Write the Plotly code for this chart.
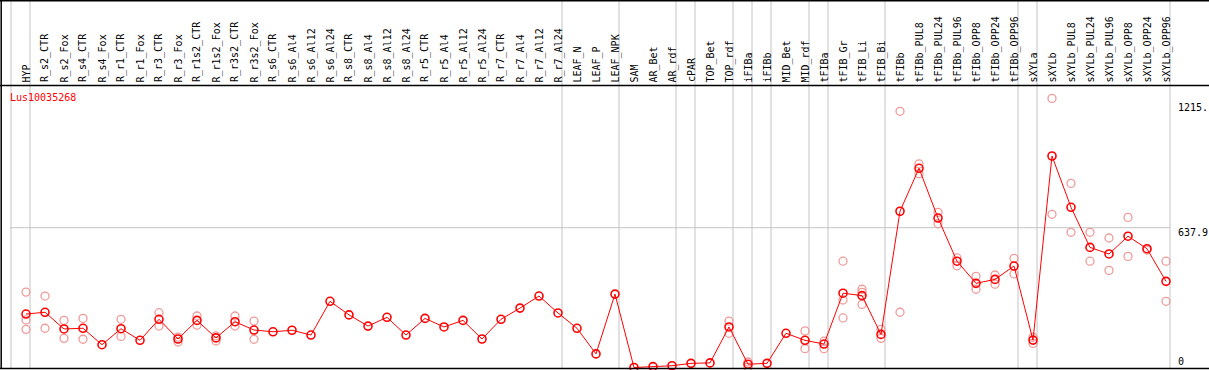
import plotly.graph_objects as go

# ---------------- data ----------------
categories = [
    "HYP", "R_s2_CTR", "R_s2_Fox", "R_s4_CTR", "R_s4_Fox", "R_r1_CTR", "R_r1_Fox",
    "R_r3_CTR", "R_r3_Fox", "R_r1s2_CTR", "R_r1s2_Fox", "R_r3s2_CTR", "R_r3s2_Fox",
    "R_s6_CTR", "R_s6_Al4", "R_s6_Al12", "R_s6_Al24", "R_s8_CTR", "R_s8_Al4",
    "R_s8_Al12", "R_s8_Al24", "R_r5_CTR", "R_r5_Al4", "R_r5_Al12", "R_r5_Al24",
    "R_r7_CTR", "R_r7_Al4", "R_r7_Al12", "R_r7_Al24", "LEAF_N", "LEAF_P", "LEAF_NPK",
    "SAM", "AR_Bet", "AR_rdf", "cPAR", "TOP_Bet", "TOP_rdf", "iFIBa", "iFIBb",
    "MID_Bet", "MID_rdf", "tFIBa", "tFIB_Gr", "tFIB_Li", "tFIB_Bi", "tFIBb",
    "tFIBb_PUL8", "tFIBb_PUL24", "tFIBb_PUL96", "tFIBb_OPP8", "tFIBb_OPP24",
    "tFIBb_OPP96", "sXYLa", "sXYLb", "sXYLb_PUL8", "sXYLb_PUL24", "sXYLb_PUL96",
    "sXYLb_OPP8", "sXYLb_OPP24", "sXYLb_OPP96",
]

mean_values = [
    244, 252, 176, 179, 104, 177, 124, 220, 130, 215, 135, 209, 171,
    163, 170, 148, 302, 240, 189, 229, 148, 224, 185, 215, 130,
    220, 271, 326, 249, 179, 62, 335,
    0, 4, 8, 19, 21, 185, 15, 19, 156, 124, 107, 339, 328, 151, 713,
    909, 682, 485, 384, 402, 463, 125, 965, 731, 548, 518, 599, 542, 393,
]

replicate_values = [
    [344, 217, 174], [326, 179], [215, 133], [224, 129], [], [220, 142], [],
    [250, 189], [139, 116], [235, 193], [144, 121], [235, 189], [212, 129],
    [], [], [], [], [], [], [], [], [], [], [], [],
    [], [], [], [], [], [], [],
    [], [], [], [], [], [212, 156], [25, 2], [],
    [], [167, 86], [120, 86], [485, 308, 226], [357, 343, 288], [174, 133], [1169, 252],
    [929, 884], [708, 656], [500, 464], [416, 357], [422, 380],
    [498, 427], [138, 110], [1228, 699], [840, 617], [617, 485], [591, 443],
    [685, 507], [536], [485, 302],
]

# indices after which a grey group separator is drawn (-1 = before first)
group_breaks = [-1, 0, 28, 31, 34, 35, 37, 38, 39, 41, 42, 45, 52, 53, 60]

gene_name = "Lus10035268"
axis_labels = ["1215.", "637.9", "0"]
grid_value = 637.9

# ---------------- geometry ----------------
W, H = 1209, 370
COL_W = 19.0
FIRST_COL_PX = 26.0
ZERO_PX = 367.5
GRID_PX = 227.7
HEADER_PX = 85.5
PLOT_BOTTOM_PX = 368.5
RIGHT_EDGE_PX = 1170

k = (ZERO_PX - GRID_PX) / grid_value  # px per unit
y_bottom = -(H - ZERO_PX) / k
y_top = ZERO_PX / k
x_left = -FIRST_COL_PX / COL_W
x_right = x_left + W / COL_W


def py(px):  # pixel y -> paper y
    return (H - px) / H


def pxx(px):  # pixel x -> paper x
    return px / W


xs = list(range(len(categories)))
rep_x, rep_y = [], []
for i, reps in enumerate(replicate_values):
    for v in reps:
        rep_x.append(i)
        rep_y.append(v)

fig = go.Figure()
fig.add_trace(go.Scatter(
    x=rep_x, y=rep_y, mode="markers",
    marker=dict(symbol="circle-open", size=8, color="#f09a9a",
                line=dict(width=1.3, color="#f09a9a")),
    hoverinfo="skip", showlegend=False, cliponaxis=False,
))
fig.add_trace(go.Scatter(
    x=xs, y=mean_values, mode="lines+markers",
    line=dict(color="#ff0000", width=1),
    marker=dict(symbol="circle-open", size=8, color="#ff0000",
                line=dict(width=1.6, color="#ff0000")),
    showlegend=False, cliponaxis=False,
))

shapes = []
for b in group_breaks:
    xb = b + 4.0 / COL_W
    shapes.append(dict(type="line", xref="x", yref="paper", x0=xb, x1=xb,
                       y0=py(PLOT_BOTTOM_PX), y1=1, line=dict(color="#c4c4c4", width=1),
                       layer="below"))
# horizontal grid line
shapes.append(dict(type="line", xref="paper", yref="y", x0=pxx(10), x1=pxx(RIGHT_EDGE_PX),
                   y0=grid_value, y1=grid_value, line=dict(color="#c4c4c4", width=1),
                   layer="below"))
# header separator and frame
shapes.append(dict(type="line", xref="paper", yref="paper", x0=0, x1=1,
                   y0=py(HEADER_PX), y1=py(HEADER_PX), line=dict(color="black", width=1.5)))
shapes.append(dict(type="line", xref="paper", yref="paper", x0=0, x1=1,
                   y0=py(0.7), y1=py(0.7), line=dict(color="black", width=1.5)))
shapes.append(dict(type="line", xref="paper", yref="paper", x0=pxx(1.2), x1=pxx(1.2),
                   y0=py(0), y1=py(PLOT_BOTTOM_PX), line=dict(color="black", width=1.5)))
shapes.append(dict(type="line", xref="paper", yref="paper", x0=0, x1=1,
                   y0=py(PLOT_BOTTOM_PX), y1=py(PLOT_BOTTOM_PX), line=dict(color="black", width=1.5)))

font = dict(family="DejaVu Sans Mono", size=10, color="black")
annotations = []
for i, c in enumerate(categories):
    annotations.append(dict(
        x=i, xref="x", y=py(83.5), yref="paper", text=c, textangle=-90,
        xanchor="center", yanchor="bottom", showarrow=False, font=font, borderpad=0,
    ))
annotations.append(dict(
    x=pxx(9), xref="paper", y=py(97.5), yref="paper", text=gene_name,
    xanchor="left", yanchor="middle", showarrow=False,
    font=dict(family="DejaVu Sans Mono", size=10, color="#ff0000"), borderpad=0,
))
label_px = [107, 232.5, 361.5]
for t, ypx in zip(axis_labels, label_px):
    annotations.append(dict(
        x=pxx(1177), xref="paper", y=py(ypx), yref="paper", text=t,
        xanchor="left", yanchor="middle", showarrow=False, font=font, borderpad=0,
    ))

fig.update_layout(
    width=W, height=H,
    margin=dict(l=0, r=0, t=0, b=0),
    paper_bgcolor="white", plot_bgcolor="white",
    xaxis=dict(range=[x_left, x_right], visible=False, fixedrange=True),
    yaxis=dict(range=[y_bottom, y_top], visible=False, fixedrange=True),
    shapes=shapes, annotations=annotations,
    showlegend=False,
)

fig.write_html(
    "out.html",
    config={"displayModeBar": False},
    post_script="document.body.style.margin='0';document.body.style.overflow='hidden';",
)
